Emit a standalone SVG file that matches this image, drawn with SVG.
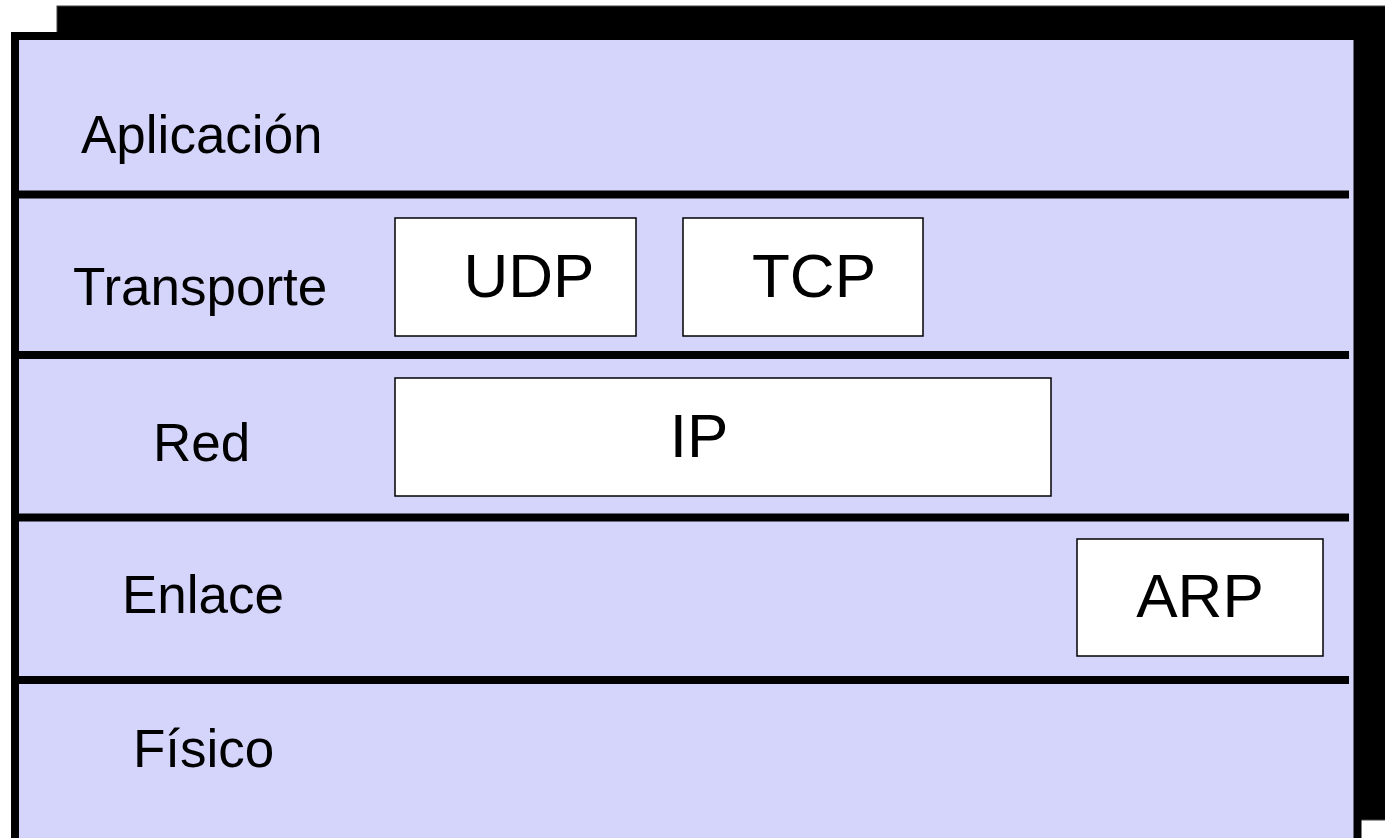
<svg xmlns="http://www.w3.org/2000/svg" width="1385" height="838" viewBox="0 0 1385 838">
<style>
.lbl{font-family:"Liberation Sans",Arial,sans-serif;font-size:53px;fill:#000}
.big{font-family:"Liberation Sans",Arial,sans-serif;font-size:62px;fill:#000;text-anchor:middle}
.box{fill:#fff;stroke:#000;stroke-width:1.5}
.div{stroke:#000;stroke-width:8}
</style>
<rect width="1385" height="838" fill="#fff"/>
<g id="shadow"><rect x="57" y="6" width="1340" height="814" fill="#000" stroke="#444" stroke-width="1"/></g>
<g id="frame"><rect x="15" y="36" width="1342.5" height="830" fill="#D5D5FC" stroke="#000" stroke-width="8"/></g>
<g id="connectors">
<line class="div" x1="11" y1="194.5" x2="1349" y2="194.5"/>
<line class="div" x1="11" y1="355" x2="1349" y2="355"/>
<line class="div" x1="11" y1="517.5" x2="1349" y2="517.5"/>
<line class="div" x1="11" y1="680" x2="1349" y2="680"/>
</g>
<g id="aplicacion"><text class="lbl" x="81" y="153">Aplicación</text></g>
<g id="transporte"><text class="lbl" x="73" y="305">Transporte</text></g>
<g id="red"><text class="lbl" x="153" y="461">Red</text></g>
<g id="enlace"><text class="lbl" x="122" y="613">Enlace</text></g>
<g id="fisico"><text class="lbl" x="133" y="767">Físico</text></g>
<g id="udp"><rect class="box" x="395" y="218" width="241" height="118"/><text class="big" x="529" y="297">UDP</text></g>
<g id="tcp"><rect class="box" x="683" y="218" width="240" height="118"/><text class="big" x="814" y="297">TCP</text></g>
<g id="ip"><rect class="box" x="395" y="378" width="656" height="118"/><text class="big" x="699" y="457">IP</text></g>
<g id="arp"><rect class="box" x="1077" y="539" width="246" height="117"/><text class="big" x="1200" y="617">ARP</text></g>
</svg>
